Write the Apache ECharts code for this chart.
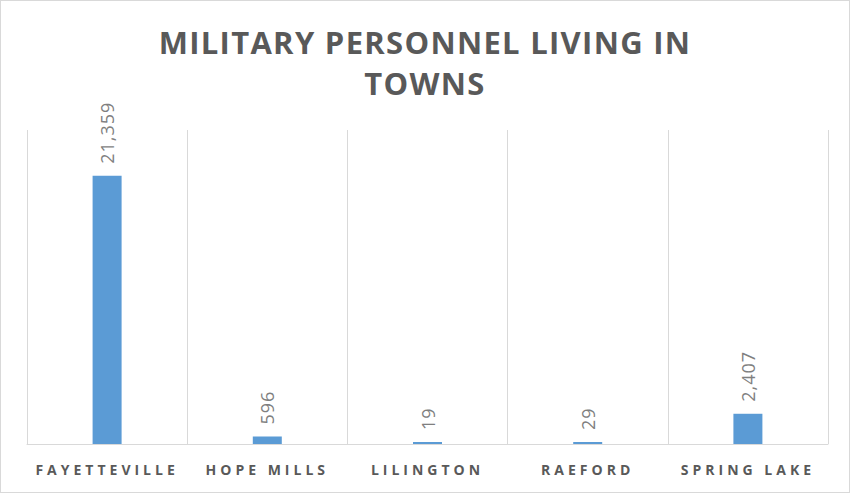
<!DOCTYPE html>
<html>
<head>
<meta charset="utf-8">
<script src="https://cdn.jsdelivr.net/npm/echarts@6/dist/echarts.min.js"></script>
<style>
    html, body { margin: 0; padding: 0; background: #fff; }
    #chart { width: 848px; height: 491px; border: 1px solid #d9d9d9; }
</style>
</head>
<body>
<div id="chart"></div>
<script>
const towns = ['FAYETTEVILLE', 'HOPE MILLS', 'LILINGTON', 'RAEFORD', 'SPRING LAKE']
const personnel = [21359, 596, 19, 29, 2407]
const titleLines = ['MILITARY PERSONNEL LIVING IN', 'TOWNS']

const myChart = echarts.init(document.getElementById('chart'), null, { renderer: 'svg' })

const option = {
    animation: false,
    title: {
        text: titleLines.join('\n'),
        left: 'center',
        top: 15,
        textStyle: {
            color: '#595959',
            fontFamily: 'Open Sans',
            fontWeight: 'bold',
            fontSize: 31,
            lineHeight: 41
        }
    },
    grid: {
        left: 26,
        right: 21,
        top: 129,
        bottom: 48
    },
    xAxis: {
        type: 'category',
        data: towns,
        axisTick: { show: false },
        axisLine: { lineStyle: { color: '#d9d9d9', width: 1 } },
        axisLabel: {
            color: '#595959',
            fontFamily: 'Open Sans',
            fontWeight: 'bold',
            fontSize: 14,
            margin: 18
        },
        splitLine: {
            show: true,
            interval: 0,
            lineStyle: { color: '#d9d9d9', width: 1 }
        }
    },
    yAxis: {
        type: 'value',
        min: 0,
        max: 25000,
        show: false
    },
    series: [
        {
            type: 'bar',
            data: personnel,
            barWidth: 29,
            barMinHeight: 2,
            itemStyle: { color: '#5b9bd5' },
            label: {
                show: true,
                position: 'top',
                rotate: 90,
                align: 'left',
                verticalAlign: 'middle',
                distance: 12,
                color: '#7f7f7f',
                fontFamily: 'Open Sans',
                fontSize: 18,
                formatter(p) {
                    return p.value.toLocaleString('en-US')
                }
            }
        }
    ]
}

myChart.setOption(option)

// echarts has no letter-spacing option, so put it on the svg text nodes
const spaceLetters = () => {
    document.querySelectorAll('#chart svg text').forEach((el) => {
        const t = el.textContent
        let gap = '1px'
        if (towns.includes(t)) gap = '4px'
        else if (titleLines.includes(t)) gap = '1.3px'
        el.setAttribute('letter-spacing', gap)
    })
}
spaceLetters()
myChart.on('finished', spaceLetters)
</script>
</body>
</html>
